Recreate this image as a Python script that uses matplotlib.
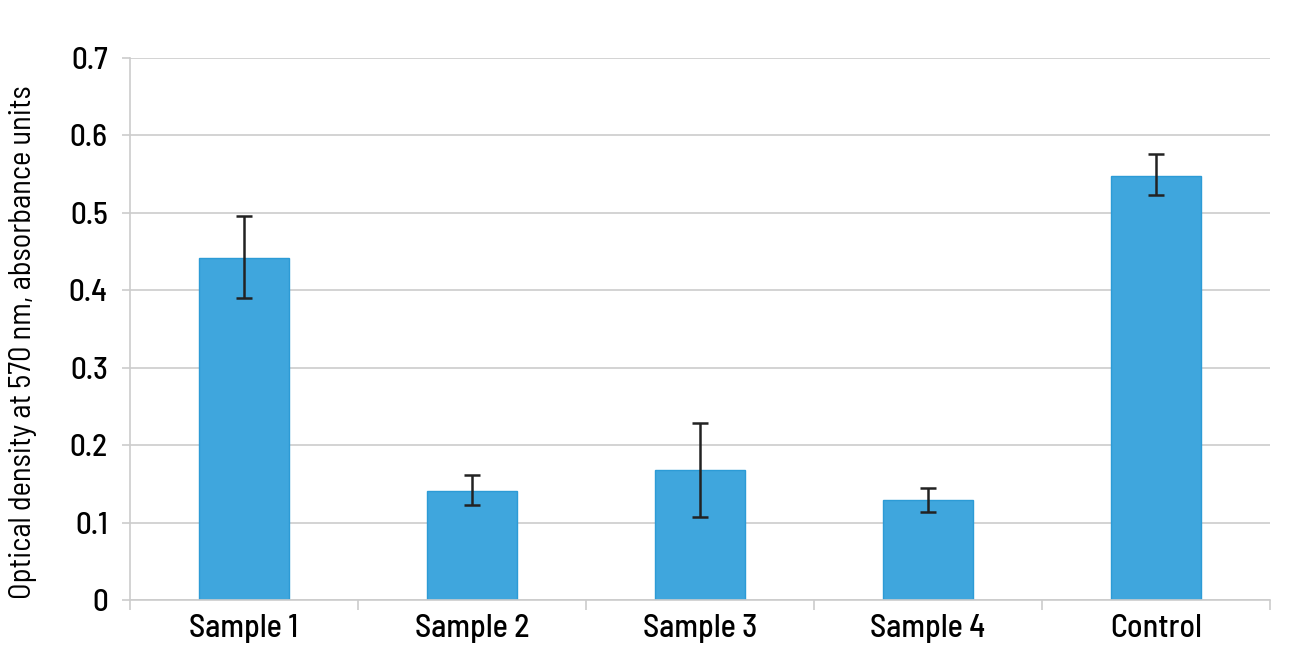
import matplotlib.pyplot as plt
import numpy as np

categories = ['Sample 1', 'Sample 2', 'Sample 3', 'Sample 4', 'Control']
values = [0.442, 0.141, 0.168, 0.129, 0.548]
err_low = [0.052, 0.018, 0.061, 0.015, 0.025]
err_high = [0.054, 0.020, 0.061, 0.016, 0.028]

plt.rcParams['font.family'] = ['Barlow Semi Condensed', 'Roboto Condensed', 'DejaVu Sans']
plt.rcParams['font.weight'] = 500

fig = plt.figure(figsize=(13.11, 6.7), dpi=100)
ax = fig.add_axes([130 / 1311, 70 / 670, 1140 / 1311, 542 / 670])

x = np.arange(len(categories))
ax.bar(x, values, width=0.395, color='#3FA6DD', edgecolor='#2C9BD6', linewidth=1, zorder=2)
ax.errorbar(x, values, yerr=[err_low, err_high], fmt='none', ecolor='#222222',
            elinewidth=1.8, capsize=6, capthick=1.8, zorder=3)

ax.set_xlim(-0.5, len(categories) - 0.5)
ax.set_ylim(0, 0.7)
ax.set_yticks(np.arange(0, 0.71, 0.1))
ax.set_yticklabels(['0', '0.1', '0.2', '0.3', '0.4', '0.5', '0.6', '0.7'])
ax.yaxis.grid(True, color='#cccccc', linewidth=1.2, zorder=0)
ax.set_axisbelow(True)

ax.set_xticks(x)
ax.set_xticklabels(categories)
ax.set_xticks(np.arange(-0.5, len(categories), 1), minor=True)
ax.tick_params(axis='x', which='major', length=0, labelsize=23, pad=10)
ax.tick_params(axis='x', which='minor', length=7, color='#cccccc', width=1.2)
ax.tick_params(axis='y', length=6, color='#cccccc', width=1.2, labelsize=22.5, pad=10)

for s in ['top', 'right']:
    ax.spines[s].set_visible(False)
for s in ['left', 'bottom']:
    ax.spines[s].set_color('#cccccc')
    ax.spines[s].set_linewidth(1.2)

ax.set_ylabel('Optical density at 570 nm, absorbance units', fontsize=22)
ax.yaxis.set_label_coords(-0.082, 0.476)

fig.savefig('out.png', dpi=100)
